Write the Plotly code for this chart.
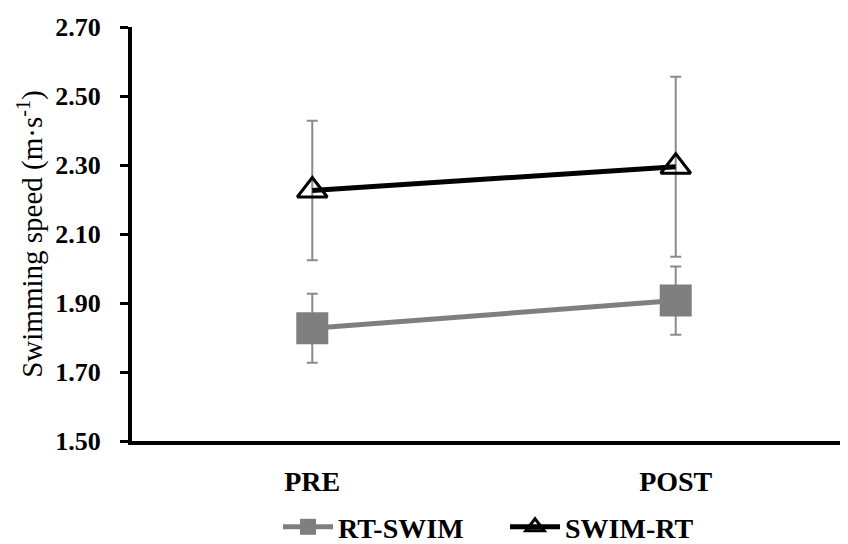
import plotly.graph_objects as go

categories = ["PRE", "POST"]
rt_swim = [1.827, 1.907]
rt_swim_sd = [0.10, 0.099]
swim_rt = [2.226, 2.295]
swim_rt_sd = [0.202, 0.261]
y_ticks = [1.50, 1.70, 1.90, 2.10, 2.30, 2.50, 2.70]
x_pos = [0, 1]

font_family = "Liberation Serif, DejaVu Serif, serif"

fig = go.Figure()
fig.add_trace(go.Scatter(
    x=x_pos, y=rt_swim, name="RT-SWIM", mode="lines+markers",
    line=dict(color="#7f7f7f", width=5),
    marker=dict(symbol="square", size=32, color="#7f7f7f"),
    error_y=dict(type="data", array=rt_swim_sd, visible=True,
                 color="#8a8a8a", thickness=2, width=5.5),
))
fig.add_trace(go.Scatter(
    x=x_pos, y=swim_rt, name="SWIM-RT", mode="lines+markers",
    line=dict(color="#000000", width=5),
    marker=dict(symbol="triangle-up-open", size=26, color="#000000",
                line=dict(color="#000000", width=3)),
    error_y=dict(type="data", array=swim_rt_sd, visible=True,
                 color="#8a8a8a", thickness=2, width=5.5),
))

fig.update_layout(
    width=848, height=544,
    margin=dict(l=124, r=0, t=19, b=111, autoexpand=False),
    plot_bgcolor="white", paper_bgcolor="white",
    font=dict(family=font_family, color="#000000"),
    showlegend=True,
    legend=dict(orientation="h", x=0.2017, xanchor="left", y=-0.208, yanchor="middle",
                font=dict(size=28, family=font_family, weight="bold"),
                itemwidth=50, entrywidth=162, entrywidthmode="pixels",
                traceorder="normal"),
    xaxis=dict(
        range=[-0.496, 1.496], tickmode="array", tickvals=x_pos, ticktext=categories,
        showgrid=False, zeroline=False, showline=True, linecolor="#000000", linewidth=4,
        ticks="", tickfont=dict(size=28, family=font_family, weight="bold"),
        ticklabelstandoff=12, automargin=False,
    ),
    yaxis=dict(
        range=[1.5, 2.7], tickmode="array", tickvals=y_ticks,
        ticktext=[f"{v:.2f}" for v in y_ticks],
        showgrid=False, zeroline=False, showline=True, linecolor="#000000", linewidth=4,
        ticks="outside", ticklen=8, tickwidth=3, tickcolor="#000000",
        tickfont=dict(size=26, family=font_family, weight="bold"),
        ticklabelstandoff=14, automargin=False,
        title=dict(text="Swimming speed (m·s<sup>-1</sup>)", standoff=5,
                   font=dict(size=29, family=font_family)),
    ),
)

fig.write_html("out.html")
